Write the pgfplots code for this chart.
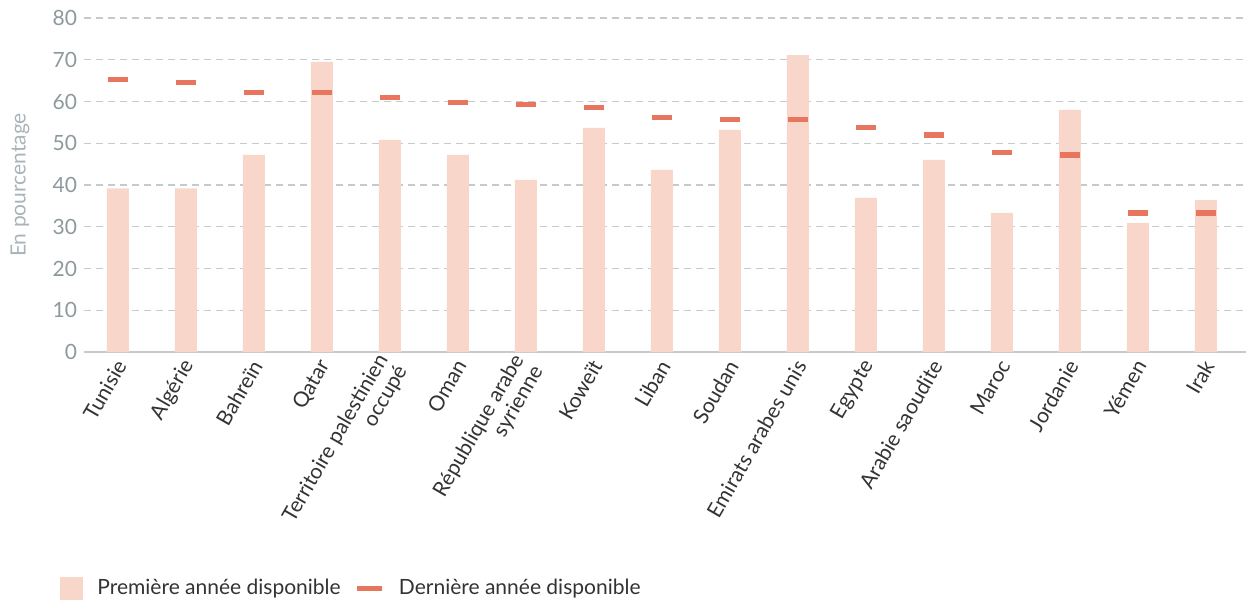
\documentclass[border=0pt]{standalone}
\usepackage{pgfplots}
\pgfplotsset{compat=1.18}
\usepackage{fontspec}
\setmainfont{Lato}
\definecolor{barc}{HTML}{F8D6CA}
\definecolor{markc}{HTML}{E8765F}
\definecolor{gridc}{HTML}{C3CBCE}
\definecolor{tickc}{HTML}{8C999D}
\definecolor{labc}{HTML}{A9B4B8}
\definecolor{txtc}{HTML}{333333}
\begin{document}
\begin{tikzpicture}
\begin{axis}[
  scale only axis,
  width=581pt, height=167pt,
  xmin=-0.5, xmax=16.59,
  ymin=0, ymax=80,
  ytick={0,10,...,80},
  xtick={0,...,16},
  xticklabels={Tunisie,Algérie,Bahreïn,Qatar,{Territoire palestinien\\occupé},Oman,{République arabe\\syrienne},Koweït,Liban,Soudan,Emirats arabes unis,Egypte,Arabie saoudite,Maroc,Jordanie,Yémen,Irak},
  xticklabel style={xshift=2pt, yshift=-4pt, rotate=60, anchor=east, align=right, font=\fontsize{10.5}{11}\selectfont, text=txtc, inner sep=1pt},
  yticklabel style={font=\fontsize{10.5}{12}\selectfont, text=tickc},
  /pgf/number format/assume math mode=true,
  major tick length=0pt,
  axis x line*=bottom,
  axis y line*=left,
  x axis line style={draw=gridc, line width=0.9pt, -},
  y axis line style={draw=none},
  ymajorgrids,
  major grid style={draw=gridc, line width=0.7pt, dash pattern=on 3.5pt off 2.5pt},
  ylabel={En pourcentage},
  ylabel style={at={(axis description cs:-0.055,0.5)}, anchor=center, font=\fontsize{10.5}{12}\selectfont, text=labc},
  legend columns=2,
  legend style={at={(axis description cs:-0.0258,-0.707)}, anchor=west, draw=none, fill=none, font=\fontsize{10.5}{12}\selectfont, text=txtc, column sep=6pt, nodes={inner xsep=1pt}},
  clip=false,
]
\addplot[ybar, bar width=11pt, bar shift=0pt, fill=barc, draw=none,
  legend image code/.code={\fill[barc] (0pt,-5.75pt) rectangle (11.5pt,5.75pt);}]
coordinates {
(0,39.2) (1,39.2) (2,47.2) (3,69.5) (4,50.8) (5,47.2) (6,41.2) (7,53.7) (8,43.6)
(9,53.2) (10,71.1) (11,36.9) (12,46.0) (13,33.3) (14,58.0) (15,30.9) (16,36.4)
};
\addlegendentry{Première année disponible}
\addplot[only marks, mark=-, mark size=5pt, mark options={line width=2.6pt, draw=markc}, draw=markc,
  legend image code/.code={\draw[markc, line width=2.6pt] (0pt,0pt) -- (12.5pt,0pt);}]
coordinates {
(0,65.2) (1,64.6) (2,62.2) (3,62.2) (4,61.0) (5,59.8) (6,59.2) (7,58.6) (8,56.2)
(9,55.6) (10,55.6) (11,53.8) (12,52.0) (13,47.7) (14,47.2) (15,33.3) (16,33.3)
};
\addlegendentry{Dernière année disponible}
\end{axis}
\pgfresetboundingbox
\path[use as bounding box] (-42pt,-126pt) rectangle (581pt,176pt);
\end{tikzpicture}
\end{document}
